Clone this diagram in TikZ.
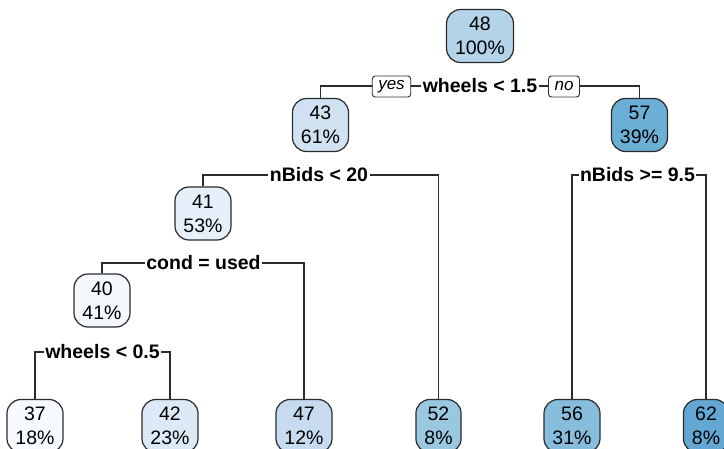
\documentclass[tikz,border=0pt]{standalone}
\usepackage{fontspec}
\setmainfont{Liberation Sans}
\usetikzlibrary{backgrounds}

% fill colours of the tree nodes (Blues scale by fitted value)
\definecolor{c48}{HTML}{B3D3E8}
\definecolor{c43}{HTML}{D0E2F2}
\definecolor{c57}{HTML}{6BAED6}
\definecolor{c41}{HTML}{E6F0FA}
\definecolor{c40}{HTML}{F4F8FD}
\definecolor{c37}{HTML}{F7FBFF}
\definecolor{c42}{HTML}{DCE9F6}
\definecolor{c47}{HTML}{C6DBEF}
\definecolor{c52}{HTML}{9AC8E1}
\definecolor{c56}{HTML}{86BCDC}
\definecolor{c62}{HTML}{62A8D3}
\definecolor{edgegray}{HTML}{2B2B2B}

\tikzset{
  treenode/.style={draw=edgegray, line width=1.2pt, rounded corners=14pt,
    minimum height=53pt, inner xsep=8.5pt, align=center,
    font=\fontsize{19.5}{24}\selectfont},
  splitlabel/.style={fill=white, inner xsep=1.5pt, inner ysep=1pt,
    font=\fontsize{19.5}{24}\selectfont\bfseries},
  yesno/.style={draw=edgegray, fill=white, line width=0.9pt, rounded corners=3pt,
    minimum height=21pt, inner xsep=6pt, inner ysep=0pt,
    font=\fontsize{17}{20}\selectfont\itshape},
  branch/.style={draw=edgegray, line width=1.1pt}
}

\begin{document}
\begin{tikzpicture}[x=1pt, y=-1pt]
\useasboundingbox (0,0) rectangle (724,449);

% tree nodes
\node[treenode, fill=c48] (n48) at (480,36)   {48\\100\%};
\node[treenode, fill=c43] (n43) at (320.5,125) {43\\61\%};
\node[treenode, fill=c57] (n57) at (639.5,125) {57\\39\%};
\node[treenode, fill=c41] (n41) at (203,213.5) {41\\53\%};
\node[treenode, fill=c40] (n40) at (102,300.5) {40\\41\%};
\node[treenode, fill=c37] (n37) at (35,426)    {37\\18\%};
\node[treenode, fill=c42] (n42) at (170,426)   {42\\23\%};
\node[treenode, fill=c47] (n47) at (304,426)   {47\\12\%};
\node[treenode, fill=c52] (n52) at (438.5,426) {52\\8\%};
\node[treenode, fill=c56] (n56) at (572,426)   {56\\31\%};
\node[treenode, fill=c62] (n62) at (706,426)   {62\\8\%};

% split labels
\node[splitlabel] (s1) at (480,86)    {wheels < 1.5};
\node[splitlabel] (s2) at (319,175)   {nBids < 20};
\node[splitlabel] (s3) at (637.5,175) {nBids >= 9.5};
\node[splitlabel] (s4) at (203.5,263) {cond = used};
\node[splitlabel] (s5) at (102.5,352) {wheels < 0.5};

% yes / no tags on the first split
\node[yesno] (yes) at (391.5,86.5) {yes};
\node[yesno] (no)  at (564,86.5)   {no};

% branches, drawn beneath the labels
\begin{scope}[on background layer]
  \draw[branch] (n43.north) |- (s1.center) -| (n57.north);
  \draw[branch] (n41.north) |- (s2.center) -| (n52.north);
  \draw[branch] (n56.north) |- (s3.center) -| (n62.north);
  \draw[branch] (n40.north) |- (s4.center) -| (n47.north);
  \draw[branch] (n37.north) |- (s5.center) -| (n42.north);
\end{scope}
\end{tikzpicture}
\end{document}
